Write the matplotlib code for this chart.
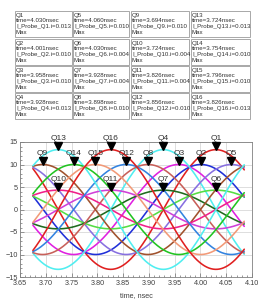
import numpy as np
import matplotlib
matplotlib.use("Agg")
import matplotlib.pyplot as plt
from matplotlib.patches import Rectangle
from matplotlib.ticker import MultipleLocator
import matplotlib.transforms as mtransforms

# ---- data ----
marker_names = ["Q1", "Q2", "Q3", "Q4", "Q5", "Q6", "Q7", "Q8",
                "Q9", "Q10", "Q11", "Q12", "Q13", "Q14", "Q15", "Q16"]
marker_times = [4.030, 4.001, 3.958, 3.928, 4.060, 4.030, 3.928, 3.898,
                3.694, 3.724, 3.826, 3.856, 3.724, 3.754, 3.796, 3.826]   # nsec
marker_vals_A = [0.013, 0.010, 0.010, 0.013, 0.010, 0.004, 0.004, 0.010,
                 0.010, 0.004, 0.004, 0.010, 0.013, 0.010, 0.010, 0.013]  # table values
peak_mA = [13.3, 10.0, 10.0, 13.3, 10.0, 4.3, 4.3, 10.0,
           10.0, 4.3, 4.3, 10.0, 13.3, 10.0, 10.0, 13.3]                  # plotted peaks
colors = ["#e02020", "#2030d8", "#e020e0", "#50eef0", "#8870e0", "#55dd44",
          "#1f6b1f", "#c8605a", "#a0522d", "#f0208a", "#d040d8", "#3383e0",
          "#50eef0", "#22c422", "#f29a78", "#e02020"]
freq_GHz = 2.45
t_start, t_stop = 3.675, 4.085

W, H = 260, 301
fig = plt.figure(figsize=(W / 100, H / 100), dpi=100)
fig.patch.set_facecolor("white")

# ---- marker table ----
col_x = [15, 73, 131, 191]
col_w = [57, 56, 58, 59]
row_y = [11, 39, 66, 93]
row_h = 26
for i, name in enumerate(marker_names):
    c, r = i // 4, i % 4
    x0, y0 = col_x[c], row_y[r]
    rect = Rectangle((x0 / W, 1 - (y0 + row_h) / H), col_w[c] / W, row_h / H,
                     transform=fig.transFigure, fill=False, edgecolor="#9a9a9a", lw=0.6)
    fig.add_artist(rect)
    lines = [name, "time=%.3fnsec" % marker_times[i],
             "I_Probe_%s.i=%.3f" % (name, marker_vals_A[i]), "Max"]
    for k, s in enumerate(lines):
        fig.text((x0 + 1.0) / W, 1 - (y0 + 4.2 + k * 5.7) / H, s,
                 fontsize=4.4, family="Liberation Sans", color="#303030",
                 va="center", ha="left")

# ---- plot ----
ax_l, ax_r, ax_t, ax_b = 20, 252, 142, 277
ax = fig.add_axes([ax_l / W, 1 - ax_b / H, (ax_r - ax_l) / W, (ax_b - ax_t) / H])
t = np.linspace(t_start, t_stop, 400)
for i in range(16):
    y = peak_mA[i] * np.cos(2 * np.pi * freq_GHz * (t - marker_times[i]))
    ax.plot(t, y, color=colors[i], lw=1.15, solid_capstyle="round")

ax.set_xlim(3.65, 4.10)
ax.set_ylim(-15, 15)
ax.xaxis.set_major_locator(MultipleLocator(0.05))
ax.xaxis.set_minor_locator(MultipleLocator(0.01))
ax.yaxis.set_major_locator(MultipleLocator(5))
ax.yaxis.set_minor_locator(MultipleLocator(1))
ax.xaxis.set_major_formatter(plt.FuncFormatter(lambda v, p: "%.2f" % v))
ax.grid(True, which="major", color="#d8d8d8", lw=0.6)
ax.set_axisbelow(True)
ax.tick_params(which="both", direction="in", color="#707070", labelsize=5.2,
               labelcolor="#404040", width=0.5)
ax.tick_params(axis="x", pad=2.5)
ax.tick_params(axis="y", pad=1.5)
ax.tick_params(which="major", length=3)
ax.tick_params(which="minor", length=1.5)
for s in ax.spines.values():
    s.set_color("#808080")
    s.set_linewidth(0.6)
for lbl in ax.get_xticklabels() + ax.get_yticklabels():
    lbl.set_family("Liberation Sans")
ax.set_xlabel("time, nsec", fontsize=5.2, family="Liberation Sans",
              color="#404040", labelpad=3)

# markers
tri_tr = mtransforms.offset_copy(ax.transData, fig=fig, y=2.6, units="points")
lab_tr = mtransforms.offset_copy(ax.transData, fig=fig, y=5.3, units="points")
for i, name in enumerate(marker_names):
    ax.plot([marker_times[i]], [peak_mA[i]], marker="v", color="black",
            markersize=5.5, transform=tri_tr, clip_on=False, zorder=5)
    ax.text(marker_times[i], peak_mA[i], name, transform=lab_tr, ha="center",
            va="bottom", fontsize=6, family="Liberation Sans", color="#303030",
            clip_on=False, zorder=6)

fig.savefig("out.png", dpi=100, facecolor="white")
